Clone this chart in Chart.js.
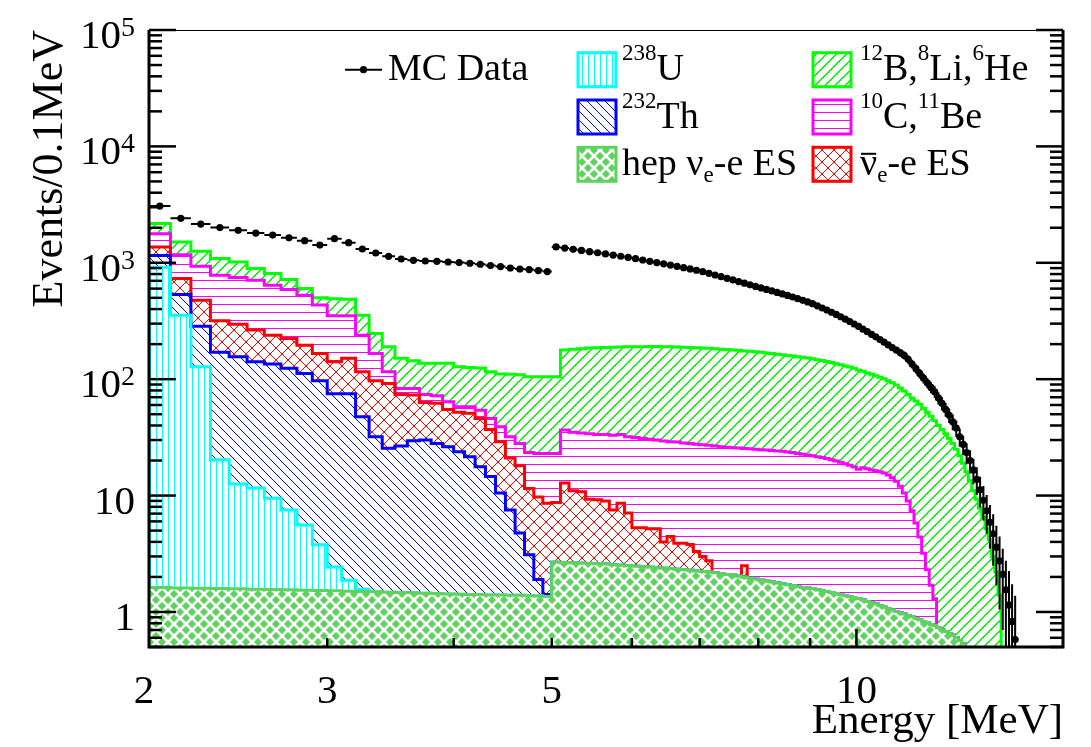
<!DOCTYPE html>
<html lang="en">
<head>
<meta charset="UTF-8" />
<title>Energy spectrum</title>
<script src="https://cdn.jsdelivr.net/npm/chart.js@4.4.0/dist/chart.umd.min.js"></script>
<style>
  body { margin: 0; background: #fff; }
  canvas { display: block; }
</style>
</head>
<body>
<canvas id="spectrum" width="1091" height="747"></canvas>
<script>
// bins of 0.1 MeV from 2 to 16 MeV
const binStart = 2.0;
const binWidth = 0.1;
const nBins = 140;

// MC data, one value per bin (bin centre 2.05, 2.15, ...)
const mcData = [
  3070, 2410, 2150, 2005, 1900, 1800, 1730, 1640, 1550, 1420,
  1610, 1490, 1313, 1213, 1137, 1078, 1050, 1036, 1030, 1016,
  1004, 991, 971, 946, 927, 902, 884, 874, 858, 841,
  1368, 1337, 1306, 1276, 1247, 1219, 1191, 1164, 1138, 1112,
  1084, 1057, 1030, 1005, 979, 955, 931, 908, 885, 863,
  838, 811, 785, 760, 736, 713, 690, 668, 647, 627,
  608, 590, 573, 556, 540, 524, 508, 492, 476, 461,
  445, 427, 409, 393, 376, 360, 344, 328, 313, 298,
  284, 269, 256, 243, 231, 219, 208, 197, 187, 178,
  169, 160, 148, 135, 123, 112, 102, 93, 85, 78,
  69, 62, 55, 49, 43, 38, 32, 27.5, 23.4, 20,
  16.6, 13.8, 11.2, 9.1, 7.4, 5.9, 4.7, 3.6, 2.75, 2.1,
  1.55, 1.15, 0.83, 0.58
];
// vertical error bars on the MC points, only where they stick out of the dots (from bin 11.0 on)
const mcErrFrom = 90;
const mcErr = [
  13, 12.6, 12.2, 11.6, 11.1, 10.6, 10.1, 9.6, 9.2, 8.8,
  8.3, 7.9, 7.4, 7.0, 6.6, 6.2, 5.7, 5.2, 4.8, 4.5,
  4.1, 3.7, 3.3, 3.0, 2.7, 2.4, 2.2, 1.9, 1.7, 1.4,
  1.2, 1.1, 0.9, 0.8
];

// stacked levels (top edge of each layer of the stack), one value per bin
const hepLevel = [
  1.62, 1.61, 1.60, 1.59, 1.58, 1.57, 1.56, 1.55, 1.54, 1.53,
  1.52, 1.51, 1.50, 1.49, 1.48, 1.47, 1.46, 1.45, 1.44, 1.43,
  1.42, 1.41, 1.41, 1.40, 1.40, 1.39, 1.39, 1.38, 1.37, 1.36,
  2.68, 2.66, 2.64, 2.62, 2.61, 2.60, 2.58, 2.55, 2.52, 2.50,
  2.47, 2.45, 2.42, 2.40, 2.37, 2.35, 2.33, 2.30, 2.28, 2.25,
  2.23, 2.20, 2.17, 2.14, 2.10, 2.07, 2.03, 1.99, 1.95, 1.91,
  1.87, 1.84, 1.81, 1.77, 1.74, 1.71, 1.68, 1.65, 1.62, 1.60,
  1.58, 1.55, 1.52, 1.50, 1.47, 1.44, 1.41, 1.38, 1.35, 1.33,
  1.30, 1.27, 1.23, 1.20, 1.17, 1.13, 1.10, 1.07, 1.04, 1.01,
  0.98, 0.96, 0.93, 0.91, 0.88, 0.86, 0.83, 0.81, 0.78, 0.76,
  0.73, 0.70, 0.68, 0.65, 0.63, 0.60, 0.57, 0.53, 0.49, 0.46,
  0.43, 0.40, 0.38, 0.36, 0.34, 0.32, 0.30, 0.28, 0.26, 0.24
];
const u238Level = [916, 355, 128, 20.3, 12.6, 11.6, 9.5, 7.5, 5.6, 3.78, 2.43, 1.87, 1.57];
const th232Level = [
  1153, 534, 285, 170, 156, 141, 135, 124, 112, 97,
  75, 75, 47.6, 32, 25.5, 26.7, 29.6, 30, 28, 26.3,
  23.8, 21.6, 17.7, 14.6, 10.5, 7.5, 4.76, 3.1, 1.9, 1.41
];
const nuBarLevel = [
  1367, 731, 477, 317, 297, 264, 239, 224, 196, 166,
  141, 151, 116, 97, 92, 74, 73, 63, 62, 55,
  52, 51, 46, 37, 29, 21, 18, 11.5, 9.7, 8.6,
  8.7, 12.8, 11, 10.8, 9.3, 9.2, 9.0, 7.5, 8.6, 7.1,
  5.3, 5.3, 5.2, 5.2, 4.0, 4.45, 3.9, 3.9, 3.8, 3.3,
  3.0, 2.75, 0, 0, 0, 0, 0, 2.5
];
const c10Level = [
  1780, 1175, 933, 781, 747, 708, 641, 589, 526, 433,
  350, 350, 239, 166, 116, 83, 83, 74, 72, 64,
  58, 58, 54, 46, 39, 32, 28, 23.5, 23, 23,
  23, 36.6, 35.0, 34.5, 34.0, 33.5, 33.5, 33.0, 33.5, 32.0,
  31.5, 31.0, 30.5, 30.0, 29.5, 29.0, 28.8, 28.3, 28.0, 27.6,
  27.3, 27.0, 26.6, 26.3, 26.0, 25.8, 25.6, 25.4, 25.2, 25.0,
  24.8, 24.6, 24.4, 24.2, 24.0, 23.7, 23.4, 23.0, 22.7, 22.3,
  22.0, 21.6, 21.2, 20.8, 20.3, 19.8, 19.3, 18.8, 18.2, 17.6,
  16.8, 17.3, 17.0, 16.6, 16.3, 16.0, 15.6, 15.0, 14.2, 13.3,
  12.0, 10.5, 9.0, 7.4, 5.8, 4.4, 3.2, 2.3, 1.7, 1.3
];
const b12Level = [
  2170, 1507, 1256, 1087, 1017, 891, 807, 718, 601, 500,
  490, 485, 355, 247, 190, 151, 144, 137, 137, 137,
  128, 126, 125, 116, 111, 110, 109, 105, 105, 105,
  105, 178, 181, 183, 185, 186, 187, 188, 189, 190,
  190, 190, 191, 191, 190, 190, 189, 188, 187, 186,
  185, 184, 183, 181, 180, 178, 177, 175, 174, 172,
  170, 168, 166, 164, 162, 160, 158, 156, 154, 152,
  150, 147, 145, 142, 139, 136, 133, 130, 127, 124,
  120, 117, 113, 110, 107, 104, 101, 97, 93, 89,
  84, 79, 74, 69, 65, 61, 56, 52, 48, 44,
  40, 37, 34, 31, 28, 25, 22, 19, 16, 13.5,
  11, 9.3, 7.8, 6.5, 5.2, 4.2, 3.0, 2.2, 1.4
];

// axis labels
const xTickLabels = [2, 3, 5, 10];
const yTickValues = [1, 10, 100, 1000, 10000, 100000];
const yTickBase = ['1', '10', '10', '10', '10', '10'];
const yTickExp = ['', '', '2', '3', '4', '5'];

const FONT = '"Liberation Serif", "Times New Roman", serif';
const canvas = document.getElementById('spectrum');
const ctx = canvas.getContext('2d');

const edges = [];
for (let i = 0; i <= nBins; i++) edges.push(+(binStart + i * binWidth).toFixed(1));

// stack level can never sit below the layer under it
function stackLevel(values, below) {
  const out = [];
  for (let i = 0; i < nBins; i++) {
    const v = values[i] || 0;
    const b = below ? below[i] : 0.01;
    out.push(Math.max(v, b));
  }
  return out;
}
function steps(vals) {
  const pts = vals.map((v, i) => ({ x: edges[i], y: v }));
  pts.push({ x: edges[nBins], y: vals[nBins - 1] });
  return pts;
}

// hatch patterns, drawn pixel by pixel so the lines stay crisp like ROOT's
function pattern(n, color, draw, bg) {
  const c = document.createElement('canvas');
  c.width = n; c.height = n;
  const g = c.getContext('2d');
  if (bg) { g.fillStyle = bg; g.fillRect(0, 0, n, n); }
  g.fillStyle = color;
  draw(g, n);
  return ctx.createPattern(c, 'repeat');
}
const vert = (g, n) => g.fillRect(0, 0, 1, n);
const horiz = (g, n) => g.fillRect(0, 0, n, 1);
const slash = (g, n) => { for (let i = 0; i < n; i++) g.fillRect(i, n - 1 - i, 1, 1); };
const slashWide = (g, n) => {
  for (let i = 0; i < n; i++) { g.fillRect(i, n - 1 - i, 1, 1); g.fillRect((i + 1) % n, n - 1 - i, 1, 1); }
};
const backslash = (g, n) => { for (let i = 0; i < n; i++) g.fillRect(i, i, 1, 1); };

const HEP = '#5dd35d';
const pU = pattern(6, '#00ffff', vert);
const pTh = pattern(9, '#0000ff', backslash);
const pNu = pattern(12, '#ff0000', (g, n) => { slash(g, n); backslash(g, n); });
const pC = pattern(8, '#ff00ff', horiz);
const pB = pattern(10, '#00ff00', slashWide);
const pHep = (() => {
  const c = document.createElement('canvas');
  c.width = 12; c.height = 12;
  const g = c.getContext('2d');
  g.fillStyle = HEP; g.fillRect(0, 0, 12, 12);
  g.strokeStyle = '#fff'; g.lineWidth = 2.6; g.lineCap = 'round';
  g.beginPath();
  g.moveTo(1, 5); g.lineTo(5, 1);
  g.moveTo(7, 1); g.lineTo(11, 5);
  g.moveTo(7, 11); g.lineTo(11, 7);
  g.moveTo(1, 7); g.lineTo(5, 11);
  g.stroke();
  return ctx.createPattern(c, 'repeat');
})();

const sHep = stackLevel(hepLevel);
const sU = stackLevel(u238Level, sHep);
const sTh = stackLevel(th232Level, sU);
const sNu = stackLevel(nuBarLevel, sTh);
const sC = stackLevel(c10Level, sNu);
const sB = stackLevel(b12Level, sC);

function layer(vals, color, fillPattern, fill) {
  return {
    data: steps(vals),
    stepped: true,
    borderColor: color,
    borderWidth: 3,
    backgroundColor: fillPattern,
    fill: fill,
    pointRadius: 0,
  };
}

const mcPoints = mcData.map((v, i) => ({ x: edges[i] + binWidth / 2, y: v }));

// error bars on the MC points, plus axes, labels and legend
const decor = {
  id: 'decor',
  afterDatasetsDraw(chart) {
    const { ctx, chartArea: a } = chart;
    const xs = chart.scales.x, ys = chart.scales.y;
    ctx.save();
    ctx.beginPath();
    ctx.rect(a.left, a.top, a.right - a.left, a.bottom - a.top);
    ctx.clip();
    ctx.strokeStyle = '#000';
    ctx.lineWidth = 2;
    ctx.beginPath();
    mcData.forEach((v, i) => {
      const py = ys.getPixelForValue(v);
      ctx.moveTo(xs.getPixelForValue(edges[i]), py);
      ctx.lineTo(xs.getPixelForValue(edges[i + 1]), py);
    });
    mcErr.forEach((e, k) => {
      const i = mcErrFrom + k;
      const px = xs.getPixelForValue(edges[i] + binWidth / 2);
      const lo = mcData[i] - e;
      ctx.moveTo(px, ys.getPixelForValue(mcData[i] + e));
      ctx.lineTo(px, lo > 0 ? ys.getPixelForValue(lo) : a.bottom);
    });
    ctx.stroke();
    ctx.restore();
  },
  afterDraw(chart) {
    const { ctx, chartArea: a } = chart;
    const xs = chart.scales.x, ys = chart.scales.y;
    ctx.save();
    ctx.strokeStyle = '#000';
    ctx.fillStyle = '#000';
    const seg = (x1, y1, x2, y2) => { ctx.beginPath(); ctx.moveTo(x1, y1); ctx.lineTo(x2, y2); ctx.stroke(); };

    // frame
    ctx.lineWidth = 1;
    seg(a.left, a.top + 0.5, a.right, a.top + 0.5);
    ctx.lineWidth = 3;
    ctx.beginPath();
    ctx.moveTo(a.left, a.top); ctx.lineTo(a.left, a.bottom);
    ctx.lineTo(a.right, a.bottom); ctx.lineTo(a.right, a.top);
    ctx.stroke();

    // y ticks (left and right)
    ctx.lineWidth = 2.5;
    for (let k = -1; k <= 5; k++) {
      for (let m = 1; m <= 9; m++) {
        const v = m * Math.pow(10, k);
        if (v < ys.min || v > ys.max) continue;
        const py = ys.getPixelForValue(v);
        const len = m === 1 ? 27 : 13;
        seg(a.left, py, a.left + len, py);
        seg(a.right - len, py, a.right, py);
      }
    }
    // x ticks
    for (let e = 3; e <= 10; e++) {
      const px = xs.getPixelForValue(e);
      seg(px, a.bottom, px, a.bottom - (e === 10 ? 18 : 9));
    }

    // x tick labels
    ctx.font = '41px ' + FONT;
    ctx.textAlign = 'center';
    ctx.textBaseline = 'alphabetic';
    xTickLabels.forEach(v => {
      const px = xs.getPixelForValue(v) - (v === 2 ? 5 : 0);
      ctx.fillText(String(v), px, 703);
    });

    // y tick labels
    ctx.textAlign = 'right';
    yTickValues.forEach((v, i) => {
      const py = ys.getPixelForValue(v) + 18;
      let xr = 135;
      if (yTickExp[i]) {
        ctx.font = '28px ' + FONT;
        ctx.fillText(yTickExp[i], xr, py - 12);
        xr -= ctx.measureText(yTickExp[i]).width;
      }
      ctx.font = '41px ' + FONT;
      ctx.fillText(yTickBase[i], xr, py);
    });

    // axis titles
    ctx.font = '43px ' + FONT;
    ctx.textAlign = 'right';
    ctx.fillText('Energy [MeV]', a.right, 733);
    ctx.save();
    ctx.translate(62, a.top);
    ctx.rotate(-Math.PI / 2);
    ctx.font = '44px ' + FONT;
    ctx.textAlign = 'right';
    ctx.fillText('Events/0.1MeV', 0, 0);
    ctx.restore();

    // legend
    ctx.textAlign = 'left';
    const rows = [69.7, 117, 164.3];
    const rich = (x, y, parts) => {
      parts.forEach(([t, kind]) => {
        const small = kind === 's' || kind === 'b';
        ctx.font = (small ? 23 : 38) + 'px ' + FONT;
        const dy = kind === 's' ? -20 : kind === 'b' ? 7 : 0;
        ctx.fillText(t, x, y + dy);
        const w = ctx.measureText(t).width;
        if (kind === 'bar') {
          ctx.lineWidth = 2;
          seg(x + 1, y - 21, x + w - 1, y - 21);
        }
        x += w;
      });
    };
    const box = (x, y, fillStyle, color) => {
      ctx.fillStyle = fillStyle;
      ctx.fillRect(x, y - 17, 38, 34);
      ctx.strokeStyle = color;
      ctx.lineWidth = 3;
      ctx.strokeRect(x, y - 17, 38, 34);
      ctx.fillStyle = '#000';
      ctx.strokeStyle = '#000';
    };

    // MC data marker
    ctx.lineWidth = 2;
    seg(345, rows[0], 382, rows[0]);
    ctx.beginPath(); ctx.arc(363.5, rows[0], 3.6, 0, Math.PI * 2); ctx.fill();
    rich(388, rows[0] + 10.5, [['MC Data', 'n']]);

    box(578, rows[0], pU, '#00ffff');
    rich(622, rows[0] + 10.5, [['238', 's'], ['U', 'n']]);
    box(578, rows[1], pTh, '#0000ff');
    rich(622, rows[1] + 10.5, [['232', 's'], ['Th', 'n']]);
    box(578, rows[2], pHep, HEP);
    rich(622, rows[2] + 10.5, [['hep \u03bd', 'n'], ['e', 'b'], ['-e ES', 'n']]);

    box(813, rows[0], pB, '#00ff00');
    rich(860, rows[0] + 10.5, [['12', 's'], ['B,', 'n'], ['8', 's'], ['Li,', 'n'], ['6', 's'], ['He', 'n']]);
    box(813, rows[1], pC, '#ff00ff');
    rich(860, rows[1] + 10.5, [['10', 's'], ['C,', 'n'], ['11', 's'], ['Be', 'n']]);
    box(813, rows[2], pNu, '#ff0000');
    rich(860, rows[2] + 10.5, [['\u03bd', 'bar'], ['e', 'b'], ['-e ES', 'n']]);

    ctx.restore();
  }
};

new Chart(ctx, {
  type: 'line',
  data: {
    datasets: [
      layer(sHep, HEP, pHep, 'start'),
      layer(sU, '#00ffff', pU, '-1'),
      layer(sTh, '#0000ff', pTh, '-1'),
      layer(sNu, '#ff0000', pNu, '-1'),
      layer(sC, '#ff00ff', pC, '-1'),
      layer(sB, '#00ff00', pB, '-1'),
      {
        data: mcPoints,
        showLine: false,
        pointRadius: 3.6,
        pointBackgroundColor: '#000',
        pointBorderWidth: 0,
        order: -1,
      },
    ],
  },
  options: {
    responsive: false,
    animation: false,
    layout: { padding: { left: 149, right: 28, top: 30, bottom: 100 } },
    plugins: {
      legend: { display: false },
      tooltip: { enabled: false },
    },
    scales: {
      x: { type: 'logarithmic', min: 2, max: 16, display: false },
      y: { type: 'logarithmic', min: 0.5, max: 100000, display: false },
    },
  },
  plugins: [decor],
});
</script>
</body>
</html>
